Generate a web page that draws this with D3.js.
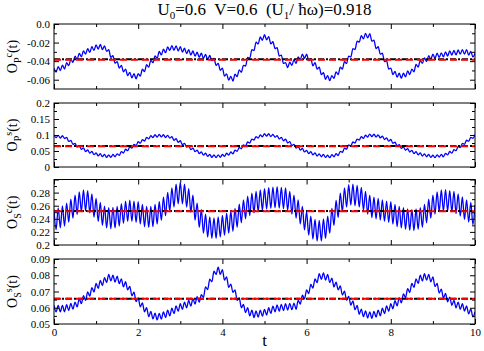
<!DOCTYPE html>
<html>
<head>
<meta charset="utf-8">
<script src="https://cdn.jsdelivr.net/npm/d3@7"></script>
<style>
body{margin:0;background:#fff;}
svg{display:block;}
</style>
</head>
<body>
<div id="chart"></div>
<script>
// time axis
var tDomain = [0, 10];
var xMajor = [0, 2, 4, 6, 8, 10];
var xMinor = [1, 3, 5, 7, 9];

// O_P^c(t) - sampled every half period of the fast oscillation
var opcVals = [
-0.0475,-0.0517,-0.0459,-0.0501,-0.0443,-0.0485,-0.0417,-0.0449,-0.0381,-0.0413,
-0.0345,-0.0381,-0.0317,-0.0353,-0.0289,-0.0325,-0.0265,-0.0305,-0.0245,-0.0285,
-0.0225,-0.027,-0.022,-0.0275,-0.0235,-0.0295,-0.0277,-0.0359,-0.0341,-0.0423,
-0.0405,-0.0475,-0.0445,-0.0515,-0.0485,-0.0555,-0.052,-0.058,-0.0535,-0.059,
-0.0535,-0.0561,-0.0487,-0.0513,-0.0439,-0.0465,-0.0391,-0.0417,-0.0343,-0.0369,
-0.0295,-0.0333,-0.0271,-0.0309,-0.0247,-0.0285,-0.0233,-0.0283,-0.0235,-0.029,
-0.0245,-0.0303,-0.0261,-0.0319,-0.0277,-0.0335,-0.0291,-0.0347,-0.0303,-0.0359,
-0.0315,-0.0371,-0.0327,-0.0383,-0.0339,-0.0395,-0.0371,-0.0447,-0.0423,-0.0499,
-0.0475,-0.0561,-0.0537,-0.0605,-0.0563,-0.0615,-0.0541,-0.0567,-0.0493,-0.0519,
-0.0445,-0.0453,-0.0361,-0.0369,-0.0277,-0.0285,-0.0195,-0.0215,-0.014,-0.0175,
-0.0115,-0.017,-0.0135,-0.0215,-0.019,-0.0265,-0.0255,-0.0345,-0.0335,-0.0425,
-0.0415,-0.047,-0.041,-0.0445,-0.0385,-0.0425,-0.0355,-0.0385,-0.0325,-0.037,
-0.0325,-0.0395,-0.0375,-0.045,-0.0415,-0.0485,-0.0465,-0.0545,-0.0525,-0.0595,
-0.0555,-0.061,-0.0555,-0.0585,-0.0515,-0.0545,-0.0465,-0.0485,-0.0405,-0.0425,
-0.0345,-0.0355,-0.0265,-0.0275,-0.0185,-0.0195,-0.0125,-0.016,-0.01,-0.015,
-0.0105,-0.0185,-0.0175,-0.0265,-0.0245,-0.0325,-0.0315,-0.0405,-0.0395,-0.0485,
-0.0475,-0.0545,-0.051,-0.0573,-0.053,-0.0585,-0.053,-0.057,-0.0505,-0.0545,
-0.0485,-0.0515,-0.0435,-0.0465,-0.0395,-0.0425,-0.0365,-0.0405,-0.034,-0.038,
-0.0325,-0.037,-0.0315,-0.036,-0.031,-0.0355,-0.03,-0.0345,-0.029,-0.0335,
-0.0285,-0.0333,-0.028,-0.0325,-0.0275,-0.0325,-0.0275,-0.0335,-0.0295,-0.0355,
-0.0315];

// O_P^s(t)
var ospVals = [
0.100,0.0915,0.099,0.0905,0.098,0.089,0.0924,0.0798,0.0832,0.0706,
0.074,0.0624,0.0668,0.0552,0.0596,0.048,0.0536,0.0432,0.0488,0.0384,
0.044,0.0348,0.0416,0.0324,0.0392,0.030,0.0375,0.030,0.039,0.032,
0.041,0.0366,0.0482,0.0438,0.0554,0.051,0.063,0.059,0.071,0.067,
0.079,0.0744,0.0858,0.0812,0.0926,0.088,0.098,0.092,0.101,0.0935,
0.102,0.094,0.101,0.092,0.099,0.090,0.0948,0.0836,0.0884,0.0772,
0.082,0.070,0.074,0.062,0.066,0.054,0.059,0.048,0.053,0.042,
0.047,0.037,0.043,0.033,0.0395,0.030,0.0375,0.0295,0.038,0.0305,
0.039,0.033,0.043,0.037,0.047,0.041,0.053,0.049,0.061,0.057,
0.069,0.0656,0.0782,0.0748,0.0874,0.084,0.095,0.090,0.1005,0.0945,
0.104,0.0965,0.104,0.095,0.102,0.093,0.0982,0.0874,0.0926,0.0818,
0.087,0.075,0.079,0.067,0.071,0.059,0.064,0.053,0.058,0.047,
0.052,0.042,0.048,0.038,0.044,0.034,0.041,0.032,0.039,0.030,
0.037,0.029,0.0385,0.032,0.042,0.036,0.049,0.046,0.059,0.056,
0.069,0.0656,0.0782,0.0748,0.0874,0.084,0.095,0.0895,0.0995,0.0935,
0.103,0.095,0.1025,0.0935,0.1005,0.091,0.0964,0.0858,0.0912,0.0806,
0.086,0.074,0.078,0.066,0.070,0.058,0.0632,0.0524,0.0576,0.0468,
0.052,0.042,0.048,0.038,0.044,0.034,0.041,0.032,0.039,0.030,
0.037,0.029,0.038,0.031,0.0395,0.032,0.0428,0.0376,0.0484,0.0432,
0.054,0.051,0.064,0.061,0.074,0.071,0.0836,0.0802,0.0928,0.0894,
0.102];

// O_S^c(t)
var oscVals = [
0.254,0.2234,0.2568,0.2262,0.2596,0.229,0.264,0.235,0.270,0.241,
0.276,0.2465,0.281,0.251,0.284,0.252,0.283,0.249,0.278,0.2425,
0.271,0.236,0.265,0.230,0.2595,0.226,0.257,0.225,0.2575,0.226,
0.259,0.229,0.263,0.233,0.267,0.236,0.2685,0.236,0.267,0.2345,
0.266,0.232,0.262,0.228,0.259,0.227,0.259,0.228,0.262,0.232,
0.266,0.2376,0.2732,0.2448,0.2804,0.252,0.287,0.258,0.293,0.263,
0.296,0.263,0.293,0.258,0.286,0.250,0.276,0.238,0.264,0.227,
0.254,0.218,0.247,0.212,0.243,0.210,0.2415,0.210,0.243,0.212,
0.245,0.215,0.2485,0.218,0.2515,0.221,0.256,0.227,0.2625,0.234,
0.269,0.240,0.2745,0.245,0.279,0.249,0.282,0.251,0.284,0.253,
0.286,0.255,0.2875,0.256,0.2885,0.257,0.289,0.2565,0.288,0.2555,
0.287,0.253,0.282,0.247,0.276,0.241,0.269,0.232,0.259,0.223,
0.251,0.215,0.244,0.209,0.239,0.206,0.2375,0.206,0.240,0.210,
0.244,0.218,0.256,0.230,0.268,0.242,0.279,0.251,0.287,0.258,
0.292,0.261,0.293,0.260,0.291,0.258,0.288,0.253,0.282,0.247,
0.276,0.242,0.273,0.240,0.271,0.238,0.269,0.236,0.267,0.2345,
0.266,0.232,0.262,0.228,0.259,0.226,0.257,0.224,0.255,0.2225,
0.254,0.222,0.255,0.224,0.257,0.227,0.262,0.234,0.270,0.241,
0.276,0.247,0.281,0.251,0.284,0.252,0.2845,0.252,0.283,0.2505,
0.282,0.248,0.278,0.244,0.2735,0.239,0.269,0.235,0.265,0.231,
0.261];

// O_S^s(t)
var ossVals = [
0.0615,0.0575,0.0615,0.0575,0.0615,0.0575,0.0619,0.0583,0.0627,0.0591,
0.0635,0.0605,0.0655,0.0625,0.0675,0.0645,0.0698,0.0671,0.0724,0.0697,
0.075,0.0719,0.0768,0.0737,0.0786,0.0755,0.0805,0.0765,0.080,0.0758,
0.0795,0.0748,0.0778,0.0728,0.076,0.071,0.0732,0.0674,0.0696,0.0638,
0.066,0.0605,0.063,0.0575,0.060,0.0545,0.0577,0.0531,0.0567,0.0525,
0.0565,0.053,0.0575,0.054,0.0585,0.055,0.0597,0.0564,0.0611,0.0578,
0.0625,0.059,0.0635,0.060,0.0645,0.061,0.0656,0.0622,0.0668,0.0634,
0.068,0.0664,0.0728,0.0712,0.0776,0.076,0.0825,0.0805,0.085,0.0805,
0.0835,0.077,0.079,0.0725,0.0745,0.0695,0.071,0.0645,0.066,0.060,
0.062,0.057,0.060,0.055,0.0585,0.054,0.058,0.0542,0.0585,0.0548,
0.059,0.0555,0.060,0.0565,0.061,0.0575,0.0617,0.0579,0.0621,0.0583,
0.0625,0.0586,0.0627,0.0588,0.0629,0.059,0.0646,0.0622,0.0678,0.0654,
0.071,0.0687,0.0744,0.0721,0.0778,0.0755,0.081,0.0775,0.0815,0.077,
0.0805,0.0755,0.0782,0.0728,0.0758,0.071,0.0734,0.0678,0.0702,0.0646,
0.067,0.0616,0.0642,0.0588,0.0614,0.056,0.0592,0.0545,0.058,0.0537,
0.0575,0.0535,0.0578,0.0542,0.0586,0.055,0.0597,0.0564,0.0611,0.0578,
0.0625,0.0594,0.0643,0.0612,0.0661,0.063,0.0686,0.0662,0.0718,0.0694,
0.075,0.0725,0.0778,0.075,0.080,0.0765,0.081,0.077,0.0805,0.076,
0.079,0.073,0.075,0.069,0.0715,0.066,0.0688,0.0637,0.0666,0.0615,
0.0645,0.060,0.0635,0.059,0.0625,0.058,0.0611,0.0562,0.0593,0.0544,
0.0575];

// time averages (red dashed) and long-time values (black dash-dot)
var redMeans = [-0.0385, 0.0652, 0.2515, 0.0655];
var blackMeans = [-0.038, 0.0655, 0.252, 0.0655];

// y axis ticks per panel
var opcTicks = [0, -0.02, -0.04, -0.06], opcLabels = ["0.0", "-0.02", "-0.04", "-0.06"], opcMinor = [-0.01, -0.03, -0.05];
var ospTicks = [0, 0.05, 0.1, 0.15, 0.2], ospLabels = ["0", "0.05", "0.1", "0.15", "0.2"], ospMinor = [0.025, 0.075, 0.125, 0.175];
var oscTicks = [0.2, 0.22, 0.24, 0.26, 0.28, 0.3], oscLabels = ["0.2", "0.22", "0.24", "0.26", "0.28", ""], oscMinor = [0.21, 0.23, 0.25, 0.27, 0.29];
var ossTicks = [0.05, 0.06, 0.07, 0.08, 0.09], ossLabels = ["0.05", "0.06", "0.07", "0.08", "0.09"], ossMinor = [0.055, 0.065, 0.075, 0.085];

var FONT = "'Liberation Serif','Times New Roman',serif";

(function(){
    var W = 484, H = 351, left = 54, right = 475;
    var svg = d3.select("#chart").append("svg").attr("width", W).attr("height", H)
        .attr("font-family", FONT);

    var x = d3.scaleLinear().domain(tDomain).range([left, right]);

    var panels = [
        {vals: opcVals, domain: [-0.07, 0], ticks: opcTicks, labels: opcLabels, minor: opcMinor, sub: "P", sup: "c", top: 24, h: 65},
        {vals: ospVals, domain: [0, 0.2], ticks: ospTicks, labels: ospLabels, minor: ospMinor, sub: "P", sup: "s", top: 103, h: 64},
        {vals: oscVals, domain: [0.2, 0.3], ticks: oscTicks, labels: oscLabels, minor: oscMinor, sub: "S", sup: "c", top: 179.5, h: 65.5},
        {vals: ossVals, domain: [0.05, 0.09], ticks: ossTicks, labels: ossLabels, minor: ossMinor, sub: "S", sup: "s", top: 259, h: 65}
    ];

    function noDomain(s){ s.select(".domain").remove(); }

    panels.forEach(function(p, i){
        var bottom = p.top + p.h;
        var y = d3.scaleLinear().domain(p.domain).range([bottom, p.top]);
        var g = svg.append("g");

        svg.append("clipPath").attr("id", "clip" + i)
            .append("rect").attr("x", left).attr("y", p.top).attr("width", right - left).attr("height", p.h);

        var n = p.vals.length;
        var line = d3.line()
            .x(function(d, k){ return x(tDomain[0] + k * (tDomain[1] - tDomain[0]) / (n - 1)); })
            .y(function(d){ return y(d); })
            .curve(d3.curveMonotoneX);

        g.append("path").datum(p.vals)
            .attr("d", line)
            .attr("clip-path", "url(#clip" + i + ")")
            .attr("fill", "none").attr("stroke", "#0000ff").attr("stroke-width", 1.3);

        g.append("line")
            .attr("x1", left).attr("x2", right)
            .attr("y1", y(blackMeans[i])).attr("y2", y(blackMeans[i]))
            .attr("stroke", "#000").attr("stroke-width", 2).attr("stroke-dasharray", "6,2,2,2");
        g.append("line")
            .attr("x1", left).attr("x2", right)
            .attr("y1", y(redMeans[i])).attr("y2", y(redMeans[i]))
            .attr("stroke", "#ff0000").attr("stroke-width", 2).attr("stroke-dasharray", "7,4");

        // ticks, all pointing inward
        g.append("g").attr("transform", "translate(" + left + ",0)")
            .call(d3.axisLeft(y).tickValues(p.ticks).tickFormat(function(d, j){ return p.labels[j]; })
                .tickSizeInner(-5).tickSizeOuter(0).tickPadding(4))
            .call(noDomain)
            .attr("font-family", FONT).attr("font-size", 11);
        g.append("g").attr("transform", "translate(" + left + ",0)")
            .call(d3.axisLeft(y).tickValues(p.minor).tickFormat("").tickSizeInner(-3).tickSizeOuter(0))
            .call(noDomain);
        g.append("g").attr("transform", "translate(" + right + ",0)")
            .call(d3.axisRight(y).tickValues(p.ticks).tickFormat("").tickSizeInner(-5).tickSizeOuter(0))
            .call(noDomain);
        g.append("g").attr("transform", "translate(" + right + ",0)")
            .call(d3.axisRight(y).tickValues(p.minor).tickFormat("").tickSizeInner(-3).tickSizeOuter(0))
            .call(noDomain);

        var last = (i === panels.length - 1);
        g.append("g").attr("transform", "translate(0," + bottom + ")")
            .call(d3.axisBottom(x).tickValues(xMajor).tickFormat(last ? d3.format("d") : "")
                .tickSizeInner(-5).tickSizeOuter(0).tickPadding(4))
            .call(noDomain)
            .attr("font-family", FONT).attr("font-size", 11);
        g.append("g").attr("transform", "translate(0," + bottom + ")")
            .call(d3.axisBottom(x).tickValues(xMinor).tickFormat("").tickSizeInner(-3).tickSizeOuter(0))
            .call(noDomain);
        g.append("g").attr("transform", "translate(0," + p.top + ")")
            .call(d3.axisTop(x).tickValues(xMajor).tickFormat("").tickSizeInner(-5).tickSizeOuter(0))
            .call(noDomain);
        g.append("g").attr("transform", "translate(0," + p.top + ")")
            .call(d3.axisTop(x).tickValues(xMinor).tickFormat("").tickSizeInner(-3).tickSizeOuter(0))
            .call(noDomain);

        g.append("rect")
            .attr("x", left).attr("y", p.top).attr("width", right - left).attr("height", p.h)
            .attr("fill", "none").attr("stroke", "#000").attr("stroke-width", 1);

        // y label  O_sub^sup(t)
        var lab = svg.append("text")
            .attr("transform", "translate(17," + (p.top + p.h / 2) + ") rotate(-90)")
            .attr("text-anchor", "middle").attr("font-size", 14).attr("fill", "#000");
        lab.append("tspan").text("O");
        lab.append("tspan").attr("font-size", 10).attr("dy", 4).text(p.sub);
        lab.append("tspan").attr("font-size", 10).attr("dy", -9).text(p.sup);
        lab.append("tspan").attr("dy", 5).text("(t)");
    });

    // title
    var title = svg.append("text")
        .attr("x", (left + right) / 2).attr("y", 15)
        .attr("text-anchor", "middle").attr("font-size", 17)
        .style("white-space", "pre");
    title.append("tspan").text("U");
    title.append("tspan").attr("font-size", 11).attr("dy", 4).text("0");
    title.append("tspan").attr("dy", -4).text("=0.6  V=0.6  (U");
    title.append("tspan").attr("font-size", 11).attr("dy", 4).text("1");
    title.append("tspan").attr("dy", -4).text("/ \u0127\u03c9)=0.918");

    // x label
    svg.append("text")
        .attr("x", (left + right) / 2).attr("y", 346)
        .attr("text-anchor", "middle").attr("font-size", 17)
        .text("t");
})();
</script>
</body>
</html>
